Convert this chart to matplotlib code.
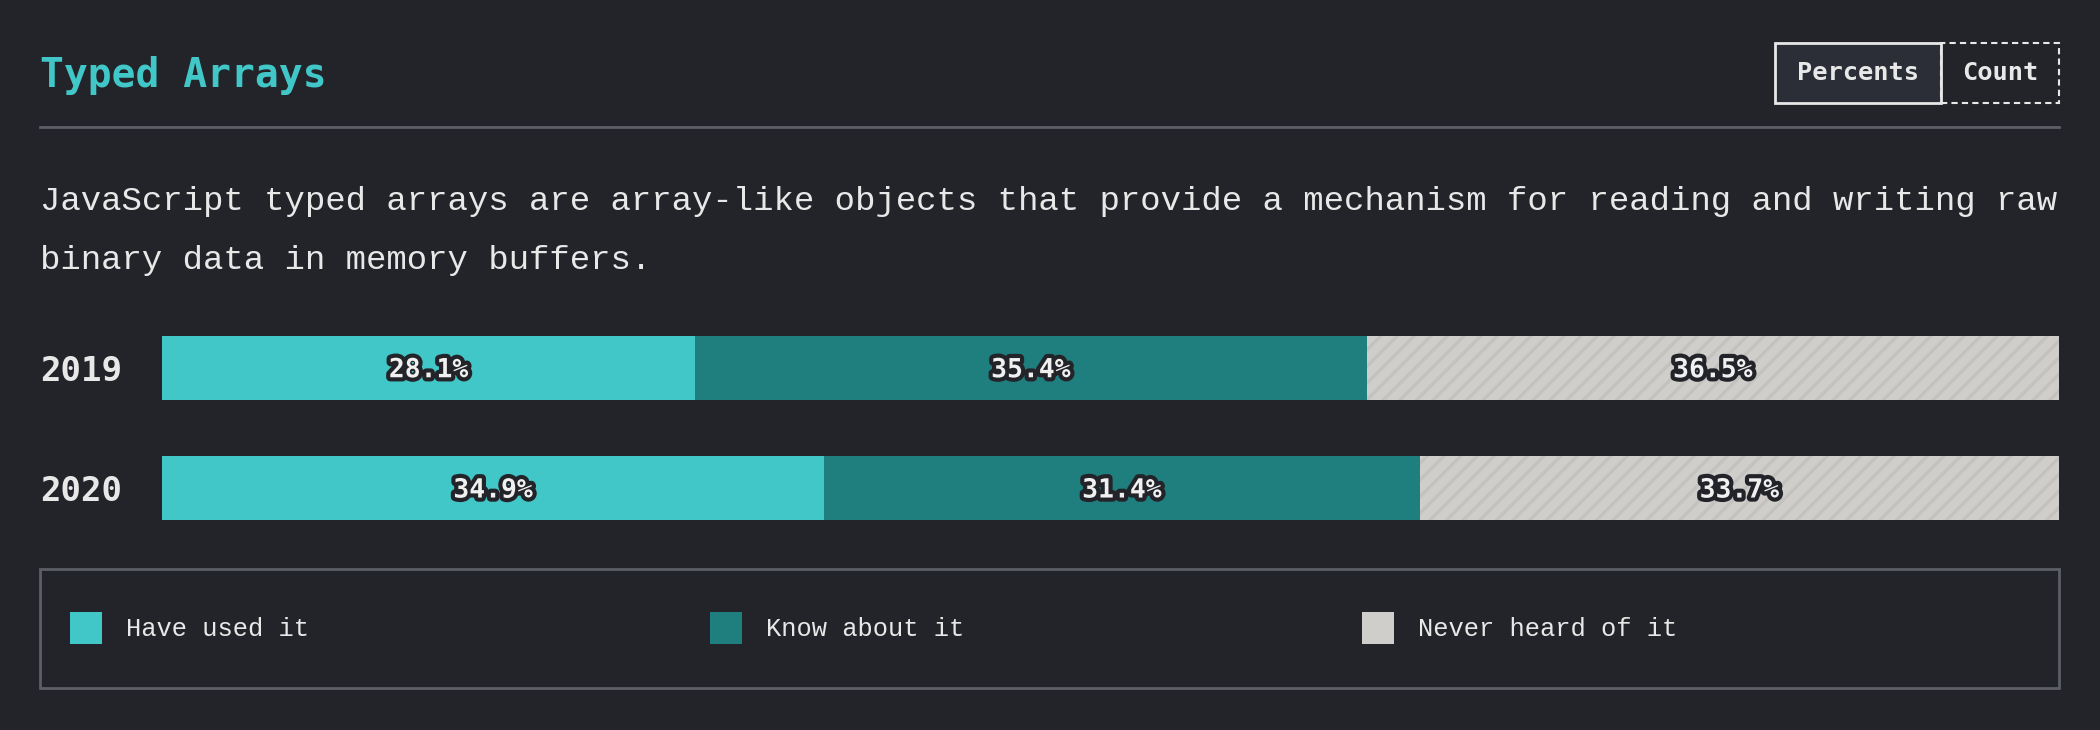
#Imports
import numpy as np
import matplotlib.pyplot as plt
import matplotlib.patheffects as pe
from matplotlib.patches import Rectangle
from matplotlib.lines import Line2D

#Data
years = ["2019", "2020"]
categories = ["Have used it", "Know about it", "Never heard of it"]
have_used = [28.1, 34.9]
know_about = [35.4, 31.4]
never_heard = [36.5, 33.7]

title = "Typed Arrays"
description = ["JavaScript typed arrays are array-like objects that provide a mechanism for reading and writing raw",
               "binary data in memory buffers."]
buttons = ["Percents", "Count"]

#Style
bg = "#232429"
teal = "#41c7c7"
dark_teal = "#1f7f7e"
gray = "#cfcecb"
hatch_gray = "#c3c2bf"
line_gray = "#5c5f66"
txt = "#e8e8e8"
colors = [teal, dark_teal, gray]
W, H = 2100, 730
mono = "DejaVu Sans Mono"
light = "Liberation Mono"

plt.rcParams['hatch.linewidth'] = 2.4

# pixel (from top-left) -> figure fraction
def fx(x):
    return x / W

def fy(y):
    return 1 - y / H

fig = plt.figure(figsize=(21, 7.3), dpi=100, facecolor=bg)

# header
fig.text(fx(40), fy(87), title, color=teal, fontsize=28.5, fontweight='bold',
         family=mono, va='baseline', ha='left')
fig.add_artist(Line2D([fx(40), fx(2059)], [fy(127), fy(127)], color=line_gray, lw=2))

# toggle buttons
fig.add_artist(Rectangle((fx(1775), fy(103)), fx(166), 60 / H, transform=fig.transFigure,
                         facecolor="#2b2e36", edgecolor=txt, lw=2))
fig.add_artist(Rectangle((fx(1941), fy(103)), fx(118), 60 / H, transform=fig.transFigure,
                         facecolor="none", edgecolor=txt, lw=1.5, linestyle=(0, (3, 2))))
fig.text(fx(1858), fy(73), buttons[0], color=txt, fontsize=18.3, fontweight='bold',
         family=mono, ha='center', va='center')
fig.text(fx(2000), fy(73), buttons[1], color=txt, fontsize=18.3, fontweight='bold',
         family=mono, ha='center', va='center')

# description
for i, line in enumerate(description):
    fig.text(fx(40), fy(210 + i * 59), line, color=txt, fontsize=24.5,
             family=light, va='baseline', ha='left')

# bars
ax = fig.add_axes([fx(162), fy(520), fx(2059) - fx(162), 184 / H])
ax.set_facecolor(bg)
pos = np.arange(len(years))
h = 0.53
left = np.zeros(len(years))
for vals, c in zip([have_used, know_about, never_heard], colors):
    vals = np.array(vals)
    if c == gray:
        ax.barh(pos, vals, left=left, height=h, color=c, edgecolor=hatch_gray,
                hatch='//', linewidth=0)
    else:
        ax.barh(pos, vals, left=left, height=h, color=c, linewidth=0)
    for p, l, v in zip(pos, left, vals):
        ax.text(l + v / 2, p + 0.02, f"{v:.1f}%", color="#f0f0f0", fontsize=19, fontweight='bold',
                family=mono, ha='center', va='center',
                path_effects=[pe.withStroke(linewidth=6, foreground=bg)])
    left += vals

ax.set_xlim(0, 100)
ax.set_ylim(1 + 0.265, -0.265)
ax.set_yticks(pos, years)
ax.tick_params(axis='y', length=0, pad=29, labelsize=24.5, labelcolor=txt)
for t in ax.get_yticklabels():
    t.set_fontweight('bold')
    t.set_family(mono)
ax.set_xticks([])
for s in ax.spines.values():
    s.set_visible(False)

# legend
fig.add_artist(Rectangle((fx(40), fy(688)), fx(2019), 119 / H, transform=fig.transFigure,
                         facecolor="none", edgecolor=line_gray, lw=2))
legend_x = [70, 710, 1362]
for x, c, lab in zip(legend_x, colors, categories):
    fig.add_artist(Rectangle((fx(x), fy(644)), fx(32), 32 / H, transform=fig.transFigure,
                             facecolor=c, edgecolor='none'))
    fig.text(fx(x + 56), fy(629), lab, color=txt, fontsize=18.4, family=light,
             va='center', ha='left')

fig.savefig("out.png", dpi=100, facecolor=bg)
